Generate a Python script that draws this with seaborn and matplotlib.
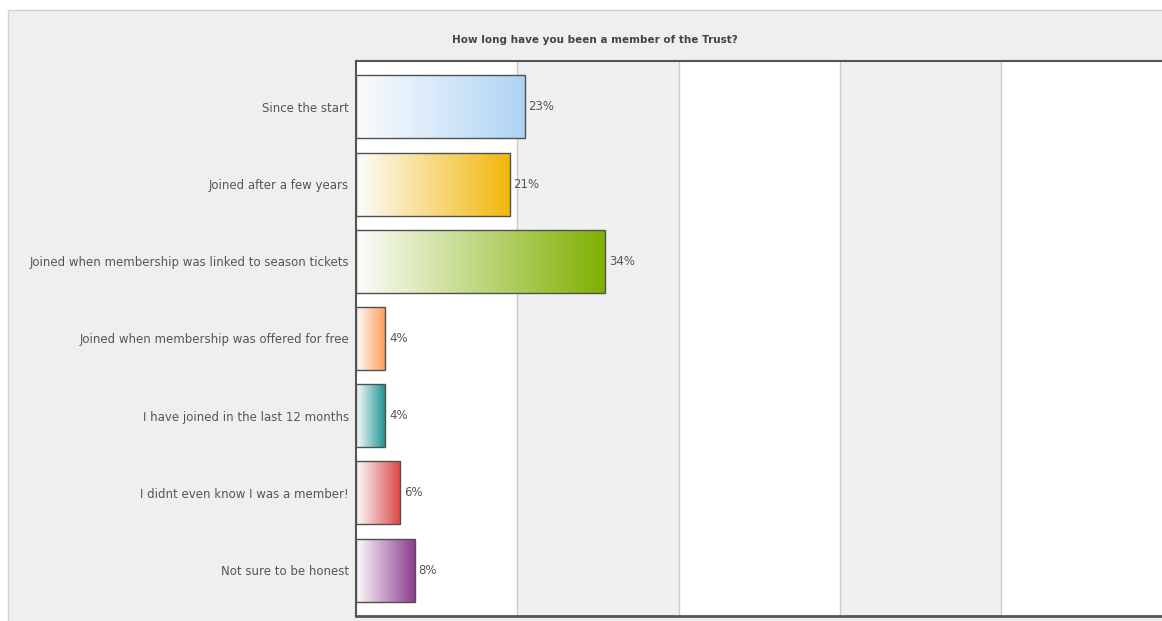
import numpy as np
import pandas as pd
import matplotlib
matplotlib.use("Agg")
import matplotlib.pyplot as plt
import seaborn as sns
from matplotlib.colors import to_rgb
from matplotlib.patches import Rectangle

categories = [
    "Since the start",
    "Joined after a few years",
    "Joined when membership was linked to season tickets",
    "Joined when membership was offered for free",
    "I have joined in the last 12 months",
    "I didnt even know I was a member!",
    "Not sure to be honest",
]
values = [23, 21, 34, 4, 4, 6, 8]
value_labels = ["23%", "21%", "34%", "4%", "4%", "6%", "8%"]
bar_colors = ["#aed3f4", "#f2b70c", "#80b000", "#ff9c55", "#1a9090", "#dd4b4b", "#8e3c8e"]
title = "How long have you been a member of the Trust?"

sns.set_theme(style="white")
plt.rcParams['font.family'] = ['DejaVu Sans']

W, H = 1162, 621
fig = plt.figure(figsize=(W / 100, H / 100), dpi=100)
fig.patch.set_facecolor("white")
# outer panel
panel = Rectangle((8 / W, -0.01), 1.0, 1 - 10 / H + 0.01, transform=fig.transFigure,
                  facecolor="#efefef", edgecolor="#d2d2d2", linewidth=1, zorder=-5)
fig.add_artist(panel)

ax = fig.add_axes([356 / W, 1 - 616 / H, 1 - 356 / W + 0.001, (616 - 61) / H])
ax.set_zorder(2)
ax.set_facecolor("white")

df = pd.DataFrame({"category": categories, "value": values})
sns.barplot(data=df, x="value", y="category", orient="h", ax=ax, width=0.815,
            color="white", edgecolor="#505050", linewidth=1.0, zorder=3)

xmax = (1162 - 357) / 7.31
ax.set_xlim(0, xmax)
ax.set_ylim(6.595, -0.595)

# alternating bands and grid lines
grid = [22, 44, 66, 88]
bounds = [0] + grid + [xmax]
for i in range(len(bounds) - 1):
    if i % 2 == 1:
        ax.axvspan(bounds[i], bounds[i + 1], facecolor="#f0f0f0", edgecolor="none", zorder=0)
for g in grid:
    ax.axvline(g, color="#cccccc", linewidth=1.0, zorder=1)

# gradient fills clipped to each bar
for patch, col in zip(ax.patches, bar_colors):
    x0, y0 = patch.get_x(), patch.get_y()
    w, h = patch.get_width(), patch.get_height()
    c = np.array(to_rgb(col))
    t = np.linspace(0, 1, 256)[None, :, None]
    start = np.array([0.99, 0.99, 0.99])
    grad = start + (c - start) * t
    img = np.repeat(grad, 2, axis=0)
    im = ax.imshow(img, extent=[x0, x0 + w, y0 + h, y0], aspect="auto",
                   interpolation="bilinear", zorder=3.5)
    im.set_clip_path(patch)
    patch.set_facecolor("none")
    patch.set_zorder(4)

ax.set_xlim(0, xmax)
ax.set_ylim(6.595, -0.595)

# value labels
for i, (v, lab) in enumerate(zip(values, value_labels)):
    ax.text(v + 0.5, i, lab, va="center", ha="left", fontsize=8.5, color="#555555", zorder=5)

ax.set_xlabel("")
ax.set_ylabel("")
ax.set_xticks([])
ax.tick_params(axis="y", length=0, pad=5, labelsize=8.5, labelcolor="#555555")

for s in ["left", "top", "bottom"]:
    ax.spines[s].set_visible(True)
    ax.spines[s].set_color("#555555")
ax.spines["left"].set_linewidth(1.5)
ax.spines["top"].set_linewidth(1.5)
ax.spines["bottom"].set_linewidth(2.0)
ax.spines["right"].set_visible(False)

fig.text(595 / W, 1 - 40 / H, title, ha="center", va="center", fontsize=7.5,
         fontweight="bold", color="#444444")

fig.savefig("out.png", dpi=100)
